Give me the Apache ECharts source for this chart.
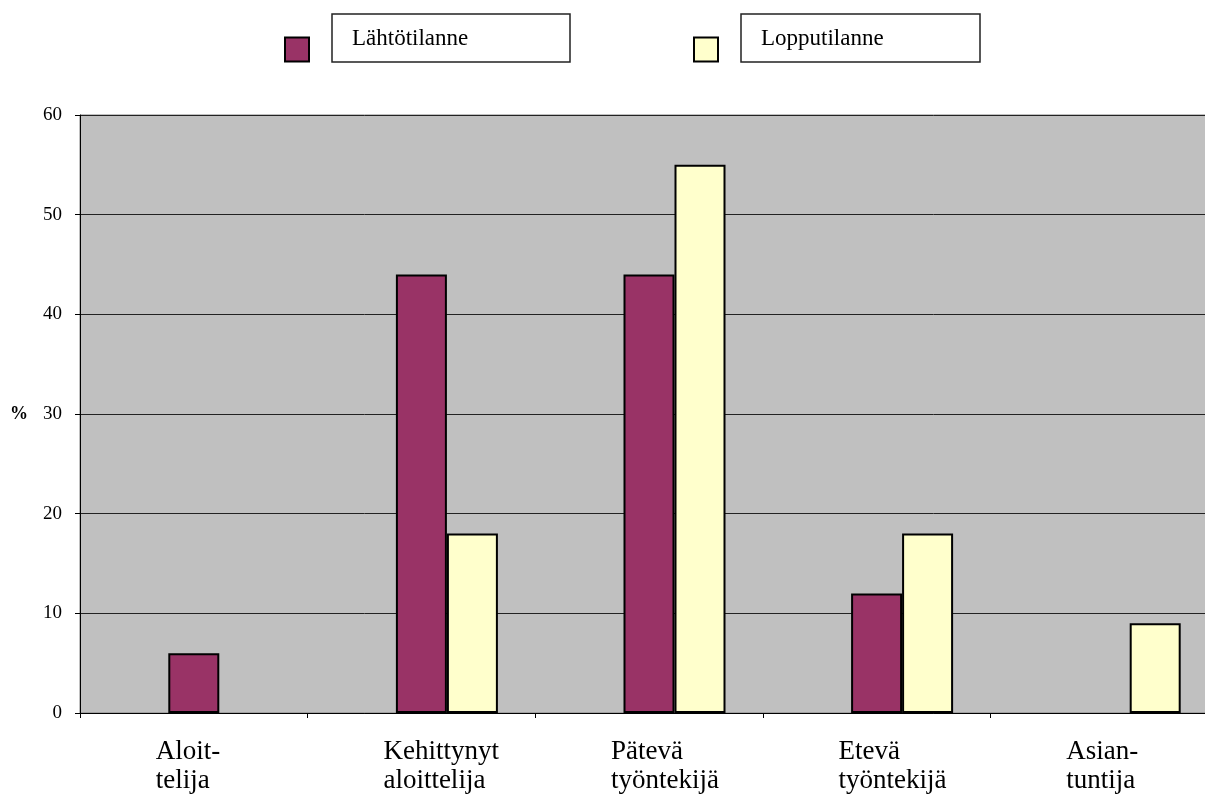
<!DOCTYPE html>
<html>
<head>
<meta charset="utf-8">
<script src="https://cdn.jsdelivr.net/npm/echarts@6/dist/echarts.min.js"></script>
<style>
  html, body { margin: 0; padding: 0; background: #fff; overflow: hidden; }
  /* kaavio on hieman ikkunaa leveämpi: oikea reuna jää kuvan ulkopuolelle */
  #chart { width: 1218px; height: 796px; }
</style>
</head>
<body>
<div id="chart"></div>
<script>
// luokat ja arvot (%)
const categories = ["Aloit-\ntelija", "Kehittynyt\naloittelija", "Pätevä\ntyöntekijä", "Etevä\ntyöntekijä", "Asian-\ntuntija"];
const lahto = [6, 44, 44, 12, 0];
const loppu = [0, 18, 55, 18, 9];
const empty = [null, null, null, null, null]; // Excelin tyhjä sarja, siirtää pylväät oikealle

const serif = "'Liberation Serif', 'Times New Roman', serif";

// nollapylväitä ei piirretä
const noZero = arr => arr.map(v => (v === 0 ? null : v));

function legendOpt(name, left) {
  return {
    data: [name],
    left: left,
    top: 22,
    z: 10,
    icon: "rect",
    itemWidth: 24,
    itemHeight: 24,
    itemStyle: { borderColor: "#000", borderWidth: 2 },
    formatter: "{t|{name}}\n{s|}",
    textStyle: {
      padding: [0, 0, 0, 38],
      rich: {
        t: { fontFamily: serif, fontSize: 23, color: "#000", lineHeight: 24 },
        s: { fontSize: 10, lineHeight: 22 }
      }
    }
  };
}

const myChart = echarts.init(document.getElementById("chart"));
myChart.setOption({
  animation: false,
  color: ["#993366", "#FFFFCC"],
  graphic: [
    { type: "rect", z: 0, shape: { x: 332, y: 14, width: 238, height: 48 }, style: { fill: "#fff", stroke: "#222", lineWidth: 1.5 } },
    { type: "rect", z: 0, shape: { x: 741, y: 14, width: 239, height: 48 }, style: { fill: "#fff", stroke: "#222", lineWidth: 1.5 } }
  ],
  legend: [legendOpt("Lähtötilanne", 279), legendOpt("Lopputilanne", 688)],
  grid: {
    left: 80,
    top: 115,
    bottom: 83,
    right: 0,
    show: true,
    backgroundColor: "#C0C0C0",
    borderColor: "#808080",
    borderWidth: 1
  },
  xAxis: {
    type: "category",
    data: categories,
    axisLine: { lineStyle: { color: "#000", width: 1 } },
    axisTick: { show: true, length: 5, lineStyle: { color: "#000" } },
    axisLabel: {
      margin: 24,
      interval: 0,
      // rivit vasemmalle tasattuina, kuten Excelissä
      formatter: v => v.split("\n").map(l => "{a|" + l + "}").join("\n"),
      rich: {
        a: { color: "#000", fontFamily: serif, fontSize: 27, lineHeight: 29, width: 76, align: "left" }
      }
    }
  },
  yAxis: {
    type: "value",
    min: 0,
    max: 60,
    interval: 10,
    name: "%",
    nameLocation: "middle",
    nameRotate: 0,
    nameGap: 52,
    nameTextStyle: { fontFamily: serif, fontSize: 18, fontWeight: "bold", color: "#000" },
    axisLine: { show: true, lineStyle: { color: "#000", width: 1 } },
    axisTick: { show: true, length: 5, lineStyle: { color: "#000" } },
    axisLabel: { color: "#000", fontFamily: serif, fontSize: 19, margin: 18 },
    splitLine: { lineStyle: { color: "#222", width: 1 } }
  },
  series: [
    { name: "tyhjä", type: "bar", data: empty, barWidth: 51, barGap: "0%" },
    {
      name: "Lähtötilanne",
      type: "bar",
      data: noZero(lahto),
      barWidth: 51,
      barGap: "0%",
      itemStyle: { color: "#993366", borderColor: "#000", borderWidth: 2 }
    },
    {
      name: "Lopputilanne",
      type: "bar",
      data: noZero(loppu),
      barWidth: 51,
      barGap: "0%",
      itemStyle: { color: "#FFFFCC", borderColor: "#000", borderWidth: 2 }
    }
  ]
});
</script>
</body>
</html>
